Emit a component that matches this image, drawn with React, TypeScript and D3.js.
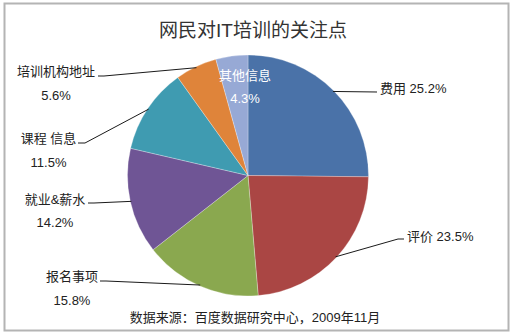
import React from "react";
import * as d3 from "d3";

// ---- data ----
const categories = ["费用", "评价", "报名事项", "就业&薪水", "课程 信息", "培训机构地址", "其他信息"];
const values = [25.2, 23.5, 15.8, 14.2, 11.5, 5.6, 4.3];
const percentLabels = ["25.2%", "23.5%", "15.8%", "14.2%", "11.5%", "5.6%", "4.3%"];
const colors = ["#4a72a8", "#aa4644", "#8aa84f", "#6f5595", "#3f9bb1", "#df843a", "#97a9d5"];
const title = "网民对IT培训的关注点";
const source = "数据来源：百度数据研究中心，2009年11月";

// ---- layout (positions/styles) ----
const W = 513, H = 334;
const cx = 248, cy = 175.5, R = 120.5;
const FONT = "'Liberation Sans', Arial, 'Noto Sans CJK SC', sans-serif";

type Lay = {
  mode: "inline" | "stack" | "inside";
  x: number; y: number;          // inline: text start; stack/inside: center of name line
  gap?: number;                  // stack: distance to percent line
  leader?: [number, number][];   // text-side points of leader (from text to slice)
};

const layout: Lay[] = [
  { mode: "inline", x: 380, y: 88, leader: [[377, 92]] },
  { mode: "inline", x: 407, y: 236, leader: [[404, 239], [398, 239]] },
  { mode: "stack", x: 72, y: 276, gap: 24, leader: [[100, 281], [106, 281]] },
  { mode: "stack", x: 55, y: 199, gap: 23, leader: [[88, 203], [94, 203]] },
  { mode: "stack", x: 48.5, y: 138, gap: 24, leader: [[78, 143], [85, 143]] },
  { mode: "stack", x: 56, y: 71, gap: 24, leader: [[98, 76], [104, 76]] },
  { mode: "inside", x: 245, y: 75, gap: 23 },
];

export default function App() {
  const pie = d3.pie<number>().sort(null).value((d) => d).startAngle(0).endAngle(2 * Math.PI);
  const arcs = pie(values);
  const arcGen = d3.arc<d3.PieArcDatum<number>>().innerRadius(0).outerRadius(R);
  const edgeArc = d3.arc<d3.PieArcDatum<number>>().innerRadius(R - 1).outerRadius(R - 1);

  return (
    <div style={{ position: "fixed", left: 0, top: 0 }}>
      <svg width={W} height={H} style={{ display: "block", background: "#fff" }}>
        <rect x={4.5} y={3.5} width={504} height={327} fill="#fff" stroke="#b4b4b4" strokeWidth={2} />
        <text x={253} y={30} textAnchor="middle" dominantBaseline="central" fontSize={19} fill="#333" fontFamily={FONT}>
          {title}
        </text>
        <g transform={`translate(${cx},${cy})`}>
          {arcs.map((a, i) => (
            <path key={i} d={arcGen(a) || ""} fill={colors[i]} stroke="#ffffff" strokeOpacity={0.35} strokeWidth={0.8} />
          ))}
        </g>
        {arcs.map((a, i) => {
          const L = layout[i];
          const mid = (a.startAngle + a.endAngle) / 2;
          const ex = cx + (R - 1) * Math.sin(mid);
          const ey = cy - (R - 1) * Math.cos(mid);
          void edgeArc;
          const els: React.ReactNode[] = [];
          if (L.leader) {
            const pts = [...L.leader, [ex, ey] as [number, number]];
            els.push(
              <path key="l" d={d3.line()(pts) || ""} fill="none" stroke="#1a1a1a" strokeWidth={1} />
            );
          }
          if (L.mode === "inline") {
            els.push(
              <text key="t" x={L.x} y={L.y} dominantBaseline="central" fontSize={13} fill="#222" fontFamily={FONT}>
                {categories[i] + " " + percentLabels[i]}
              </text>
            );
          } else {
            const fill = L.mode === "inside" ? "#ffffff" : "#222";
            els.push(
              <text key="n" x={L.x} y={L.y} textAnchor="middle" dominantBaseline="central" fontSize={13} fill={fill} fontFamily={FONT}>
                {categories[i]}
              </text>,
              <text key="p" x={L.x} y={L.y + (L.gap || 23)} textAnchor="middle" dominantBaseline="central" fontSize={13} fill={fill} fontFamily={FONT}>
                {percentLabels[i]}
              </text>
            );
          }
          return <g key={i}>{els}</g>;
        })}
        <text x={255} y={317} textAnchor="middle" dominantBaseline="central" fontSize={13} fill="#222" fontFamily={FONT}>
          {source}
        </text>
      </svg>
    </div>
  );
}
